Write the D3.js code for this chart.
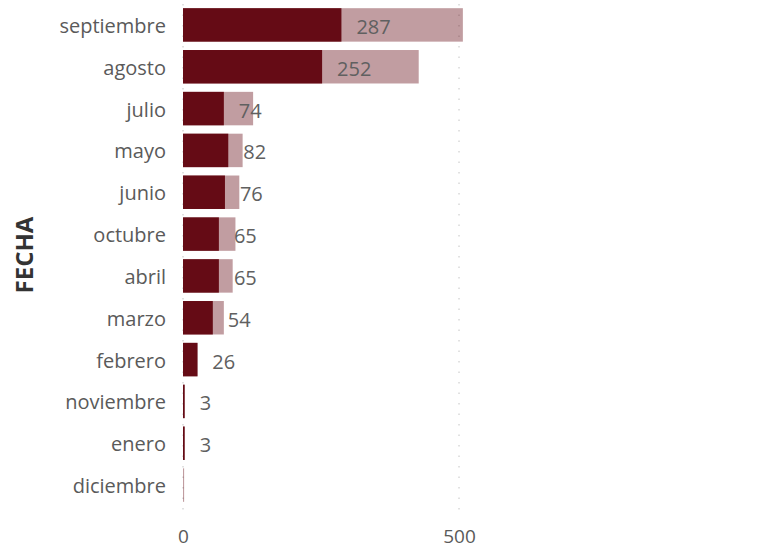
<!DOCTYPE html>
<html>
<head>
<meta charset="utf-8">
<script src="https://cdn.jsdelivr.net/npm/d3@7"></script>
<style>
	body { margin: 0; background: #fff; }
	text { font-family: "Open Sans", sans-serif; }
</style>
</head>
<body>
<svg id="svgChart"></svg>
<script>
// Chart data
var months = ["septiembre", "agosto", "julio", "mayo", "junio", "octubre", "abril", "marzo", "febrero", "noviembre", "enero", "diciembre"];
var counts = [287, 252, 74, 82, 76, 65, 65, 54, 26, 3, 3, 0];
var totals = [507, 427, 127, 108, 102, 95, 90, 74, 27, 3, 3, 2];
var xTicks = [0, 500];
var yTitle = "FECHA";

// Init parameters
var chart = {};
chart.width = 761;
chart.height = 550;

chart.draw = () => {
	let svg = d3.select("#svgChart")
		.attr("width", chart.width)
		.attr("height", chart.height);

	let rows = months.map((m, i) => ({ month: m, count: counts[i], total: totals[i] }));

	// Scales
	let x = d3.scaleLinear()
			.domain([0, 1000])
			.range([183, 735]),
		y = d3.scaleBand()
			.domain(months)
			.range([4, 506])
			.paddingInner(0.2)
			.paddingOuter(0.1);

	let gridTop = 4,
		gridBottom = 518;

	// Dotted gridlines
	svg.append("g")
		.selectAll("line")
		.data(xTicks)
		.enter()
		.append("line")
		.attr("x1", d => x(d))
		.attr("x2", d => x(d))
		.attr("y1", gridTop)
		.attr("y2", gridBottom)
		.attr("stroke", "#c4c4c4")
		.attr("stroke-width", 1)
		.attr("stroke-dasharray", "1.5,9");

	// Total bars (light)
	svg.append("g")
		.selectAll("rect")
		.data(rows)
		.enter()
		.append("rect")
		.attr("x", x(0))
		.attr("y", d => y(d.month))
		.attr("width", d => x(d.total) - x(0))
		.attr("height", y.bandwidth())
		.attr("fill", "#650b15")
		.attr("fill-opacity", 0.4);

	// Count bars (dark)
	svg.append("g")
		.selectAll("rect")
		.data(rows)
		.enter()
		.append("rect")
		.attr("x", x(0))
		.attr("y", d => y(d.month))
		.attr("width", d => x(d.count) - x(0))
		.attr("height", y.bandwidth())
		.attr("fill", "#650b15");

	// Value labels
	svg.append("g")
		.selectAll("text")
		.data(rows.filter(d => d.count > 0))
		.enter()
		.append("text")
		.attr("x", d => x(d.count) + 15)
		.attr("y", d => y(d.month) + y.bandwidth() / 2)
		.attr("dy", "0.45em")
		.style("font-size", "20px")
		.style("fill", "#606060")
		.text(d => d.count);

	// Category axis
	let yAxis = svg.append("g")
		.attr("transform", "translate(168,0)")
		.call(d3.axisLeft(y).tickSize(0).tickPadding(2));
	yAxis.select(".domain").remove();
	yAxis.selectAll("text")
		.attr("dy", "0.4em")
		.style("font-family", "'Open Sans', sans-serif")
		.style("font-size", "20px")
		.style("fill", "#5a5a5a");

	// Value axis
	let xAxis = svg.append("g")
		.attr("transform", "translate(0," + gridBottom + ")")
		.call(d3.axisBottom(x).tickValues(xTicks).tickSize(0).tickPadding(12));
	xAxis.select(".domain").remove();
	xAxis.selectAll("text")
		.style("font-family", "'Open Sans', sans-serif")
		.style("font-size", "19px")
		.style("fill", "#5a5a5a");

	// Axis title
	svg.append("text")
		.attr("transform", "translate(24,255) rotate(-90)")
		.attr("dy", "0.36em")
		.style("text-anchor", "middle")
		.style("font-size", "24px")
		.style("font-weight", "bold")
		.style("fill", "#333")
		.text(yTitle);
}

chart.draw();
</script>
</body>
</html>
